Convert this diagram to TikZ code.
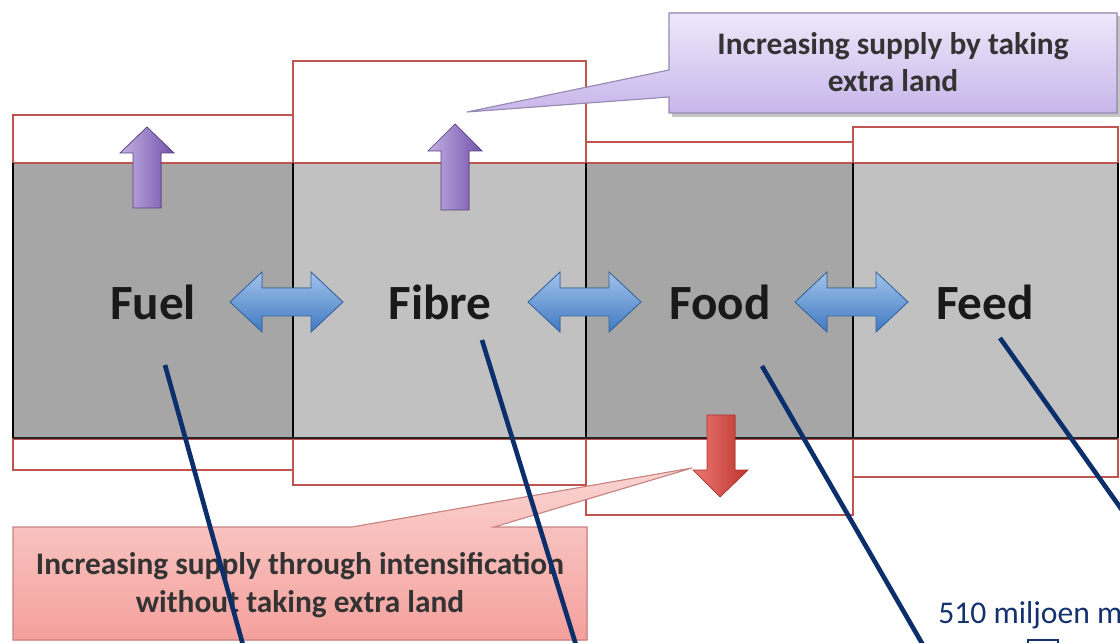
\documentclass[tikz,border=0pt]{standalone}
\usepackage{fontspec}
\setmainfont{Carlito}
\definecolor{landred}{RGB}{192,84,80}
\definecolor{darkpanel}{RGB}{166,166,166}
\definecolor{lightpanel}{RGB}{193,193,193}
\definecolor{navyline}{RGB}{11,47,107}
\definecolor{navytext}{RGB}{20,50,110}
\definecolor{swapblue}{RGB}{70,135,215}
\definecolor{upviolet}{RGB}{135,98,200}
\definecolor{downred}{RGB}{225,62,55}
\definecolor{lavtop}{RGB}{238,232,250}
\definecolor{lavbottom}{RGB}{200,182,234}
\definecolor{lavedge}{RGB}{150,138,178}
\definecolor{pinktop}{RGB}{250,212,210}
\definecolor{pinkbottom}{RGB}{244,160,156}
\definecolor{pinkedge}{RGB}{200,132,130}
\tikzset{
  landbox/.style={draw=landred, line width=1.1pt},
  panellabel/.style={font=\fontsize{35}{40}\selectfont\bfseries, text=black!90},
  calloutlabel/.style={font=\fontsize{22.3}{26.5}\selectfont\bfseries, text=black!80, align=center},
  swaparrow/.style={draw=swapblue!75!black, line width=0.6pt, top color=swapblue!50!white, bottom color=swapblue!90!black},
  uparrow/.style={draw=upviolet!65!black, line width=0.5pt, left color=upviolet!50!white, right color=upviolet!85!black},
  downarrow/.style={draw=downred!80!black, line width=0.5pt, left color=downred!70!white, right color=downred!85!black},
  pointerline/.style={draw=navyline, line width=3.3pt}
}
\begin{document}
\begin{tikzpicture}[x=0.025cm, y=-0.025cm]
\useasboundingbox (0,0) rectangle (1120,643);

% land boxes above and below
\draw[landbox] (13,163) rectangle (293,115);
\draw[landbox] (293,163) rectangle (586,61);
\draw[landbox] (586,163) rectangle (853,142);
\draw[landbox] (853,163) rectangle (1118,127);
\draw[landbox] (13,439) rectangle (293,470);
\draw[landbox] (293,439) rectangle (586,485);
\draw[landbox] (586,439) rectangle (853,515);
\draw[landbox] (853,439) rectangle (1118,477);

% the four panels
\fill[darkpanel] (13,163) rectangle (293,438);
\fill[lightpanel] (293,163) rectangle (586,438);
\fill[darkpanel] (586,163) rectangle (853,438);
\fill[lightpanel] (853,163) rectangle (1118,438);
\draw[landred, line width=1.1pt] (13,163) -- (1118,163);
\foreach \x in {13,293,586,853,1118}
  \draw[black, line width=1.6pt] (\x,163) -- (\x,438);
\draw[black!85, line width=1.6pt] (13,438) -- (1118,438);

\node[panellabel] (fuel) at (153,302) {Fuel};
\node[panellabel] (fibre) at (440,302) {Fibre};
\node[panellabel] (food) at (720,302) {Food};
\node[panellabel] (feed) at (985,302) {Feed};

% double arrows between panels
\foreach \a in {230,528,795}
  \filldraw[swaparrow] (\a,302) -- (\a+32,272) -- (\a+32,288) -- (\a+81,288) -- (\a+81,272)
    -- (\a+113,302) -- (\a+81,332) -- (\a+81,316) -- (\a+32,316) -- (\a+32,332) -- cycle;

% up arrows
\filldraw[uparrow] (147,127) -- (174,153) -- (161,153) -- (161,208) -- (133,208) -- (133,153) -- (120,153) -- cycle;
\filldraw[uparrow] (455,124) -- (482,151) -- (469,151) -- (469,210) -- (441,210) -- (441,151) -- (428,151) -- cycle;

% down arrow
\filldraw[downarrow] (707,415) -- (735,415) -- (735,470) -- (748,470) -- (720,497) -- (693,470) -- (707,470) -- cycle;

% callout: extra land
\fill[black!45, opacity=0.5] (672,16) -- (1120,16) -- (1120,117) -- (672,117) -- cycle;
\filldraw[draw=lavedge, line width=0.8pt, top color=lavtop, bottom color=lavbottom]
  (669,13) -- (1117,13) -- (1117,113) -- (669,113) -- (669,97) -- (467,112) -- (669,70) -- cycle;
\node[calloutlabel] (extraland) at (893,62) {Increasing supply by taking\\extra land};

% callout: intensification
\filldraw[draw=pinkedge, line width=0.8pt, top color=pinktop, bottom color=pinkbottom]
  (13,527) -- (352,527) -- (692,468) -- (494,527) -- (587,527) -- (587,640) -- (13,640) -- cycle;
\node[calloutlabel] (intens) at (300,585) {Increasing supply through intensification\\without taking extra land};

% pointer lines
\coordinate (fuelpin) at (165,365);
\coordinate (fibrepin) at (482,340);
\coordinate (foodpin) at (762,366);
\coordinate (feedpin) at (1000,338);
\coordinate (fuelend) at (243,645);
\coordinate (fibreend) at (576,645);
\coordinate (foodend) at (923,645);
\coordinate (feedend) at (1122,510);
\draw[pointerline] (fuelpin) -- (fuelend);
\draw[pointerline] (fibrepin) -- (fibreend);
\draw[pointerline] (foodpin) -- (foodend);
\draw[pointerline] (feedpin) -- (feedend);

\node[anchor=base west, inner sep=0pt, text=navytext, font=\fontsize{22.5}{26}\selectfont] (area) at (938,623) {510 miljoen m};
\draw[navytext, line width=1.2pt] (1028,645) -- (1028,640) -- (1058,640) -- (1058,645);
\end{tikzpicture}
\end{document}
